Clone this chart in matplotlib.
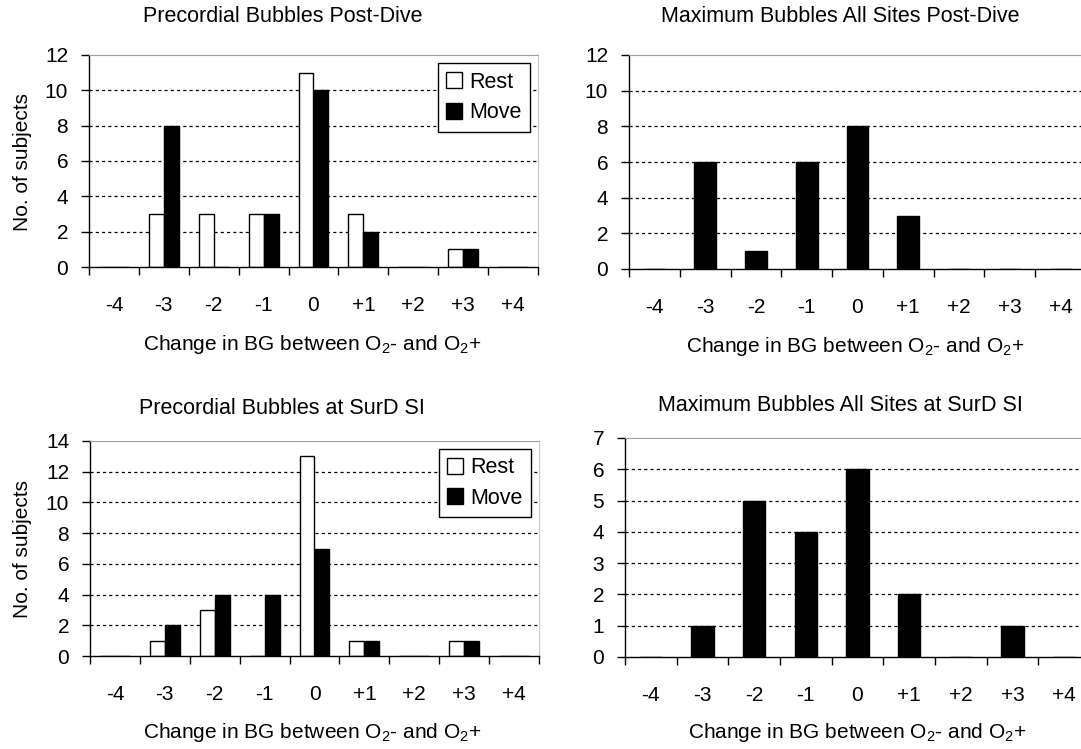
import numpy as np
import matplotlib.pyplot as plt

plt.rcParams["font.family"] = ["Liberation Sans", "DejaVu Sans"]
plt.rcParams["mathtext.fontset"] = "custom"
plt.rcParams["mathtext.rm"] = "Liberation Sans"
plt.rcParams["mathtext.default"] = "rm"

# data
categories = ["-4", "-3", "-2", "-1", "0", "+1", "+2", "+3", "+4"]
pre_post_rest = [0, 3, 3, 3, 11, 3, 0, 1, 0]
pre_post_move = [0, 8, 0, 3, 10, 2, 0, 1, 0]
max_post = [0, 6, 1, 6, 8, 3, 0, 0, 0]
pre_surd_rest = [0, 1, 3, 0, 13, 1, 0, 1, 0]
pre_surd_move = [0, 2, 4, 4, 7, 1, 0, 1, 0]
max_surd = [0, 1, 5, 4, 6, 2, 0, 1, 0]

W, H = 1081, 749
XLABEL = "Change in BG between O$_2$- and O$_2$+"


def px_rect(left, right, top, bottom):
    return [left / W, 1 - bottom / H, (right - left) / W, (bottom - top) / H]


def style_axes(ax, ymax, ystep):
    x = np.arange(len(categories))
    ax.set_xlim(-0.5, len(categories) - 0.5)
    ax.set_ylim(0, ymax)
    ax.set_yticks(np.arange(0, ymax + 0.01, ystep))
    ax.set_xticks(x)
    ax.set_xticklabels(categories)
    ax.set_xticks(np.arange(-0.5, len(categories)), minor=True)
    ax.tick_params(axis="x", which="major", length=0, pad=21, labelsize=15)
    ax.tick_params(axis="x", which="minor", length=6, width=1, direction="out")
    ax.tick_params(axis="y", length=5.5, width=1, pad=9.5, labelsize=15)
    for yv in np.arange(ystep, ymax, ystep):
        ax.axhline(yv, color="black", lw=0.9, ls=(0, (2.5, 2.5)), zorder=0)
    ax.spines["top"].set_color("#a0a0a0")
    ax.spines["right"].set_color("#c8c8c8")
    ax.spines["left"].set_linewidth(1)
    ax.spines["bottom"].set_linewidth(1)


def paired(ax, rest, move, ymax, ystep, anchor):
    x = np.arange(len(categories))
    w = 0.3
    ax.bar(x - w, rest, w, align="edge", color="white", edgecolor="black",
           lw=1, label="Rest", zorder=2)
    ax.bar(x, move, w, align="edge", color="black", edgecolor="black",
           lw=1, label="Move", zorder=2)
    style_axes(ax, ymax, ystep)
    leg = ax.legend(loc="upper right", bbox_to_anchor=anchor, borderaxespad=0,
                    fontsize=15.5, fancybox=False, framealpha=1,
                    handlelength=0.75, handleheight=0.75, handletextpad=0.3,
                    labelspacing=0.45, borderpad=0.4)
    leg.get_frame().set_edgecolor("black")
    leg.get_frame().set_linewidth(1)


def single(ax, vals, ymax, ystep):
    x = np.arange(len(categories))
    ax.bar(x, vals, 0.43, color="black", edgecolor="black", lw=1, zorder=2)
    style_axes(ax, ymax, ystep)


fig = plt.figure(figsize=(W / 100, H / 100), dpi=100)

ax1 = fig.add_axes(px_rect(89, 538, 55, 267))
paired(ax1, pre_post_rest, pre_post_move, 12, 2, (0.982, 0.962))

ax2 = fig.add_axes(px_rect(629, 1086, 55, 269))
single(ax2, max_post, 12, 2)

ax3 = fig.add_axes(px_rect(90, 539, 441, 656))
paired(ax3, pre_surd_rest, pre_surd_move, 14, 2, (0.982, 0.965))

ax4 = fig.add_axes(px_rect(625, 1090, 438, 657))
single(ax4, max_surd, 7, 1)

titles = [
    (283, 17, "Precordial Bubbles Post-Dive"),
    (840, 17, "Maximum Bubbles All Sites Post-Dive"),
    (282, 408, "Precordial Bubbles at SurD SI"),
    (840, 405, "Maximum Bubbles All Sites at SurD SI"),
]
for tx, ty, t in titles:
    fig.text(tx / W, 1 - ty / H, t, ha="center", va="center", fontsize=15.5)

for xc, yc in [(312, 345), (855, 347), (312, 733), (857, 733)]:
    fig.text(xc / W, 1 - yc / H, XLABEL, ha="center", va="center", fontsize=15)

for yc in [162, 549]:
    fig.text(23 / W, 1 - yc / H, "No. of subjects", ha="center", va="center",
             rotation=90, fontsize=15)

fig.savefig("out.png", dpi=100)
